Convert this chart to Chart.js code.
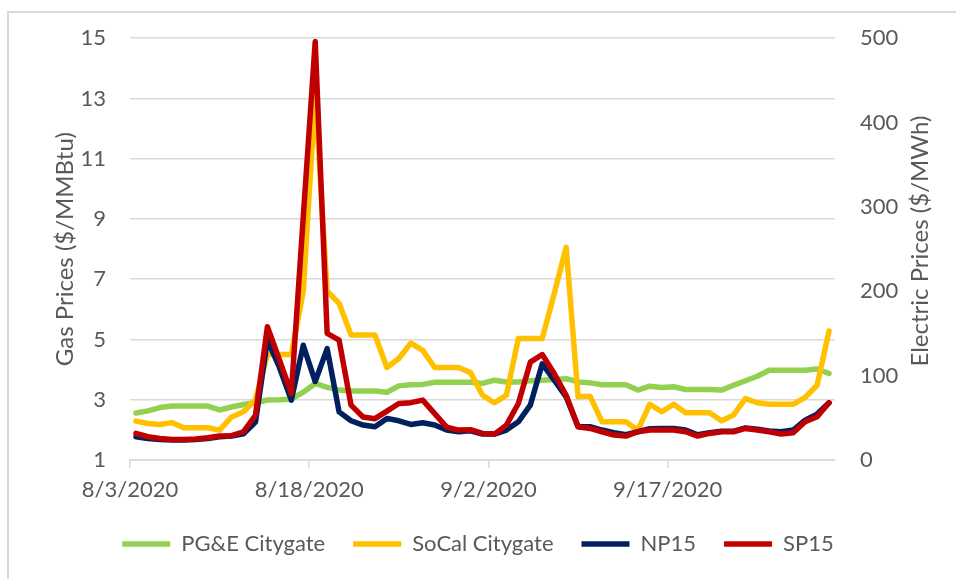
<!DOCTYPE html>
<html>
<head>
<meta charset="utf-8">
<script src="https://cdn.jsdelivr.net/npm/chart.js@4.4.1/dist/chart.umd.min.js"></script>
<style>
  body { margin: 0; background: #fff; }
  #wrap { position: relative; width: 956px; height: 579px; overflow: hidden; }
  #frame { position: absolute; left: 7px; top: 11px; width: 960px; height: 600px; border-left: 2px solid #d9d9d9; border-top: 2px solid #d9d9d9; }
  canvas { position: absolute; left: 0; top: 0; }
</style>
</head>
<body>
<div id="wrap">
  <div id="frame"></div>
  <canvas id="chart" width="956" height="579"></canvas>
</div>
<script>
// daily values, 8/3/2020 .. 9/30/2020
let tickLabels = ['8/3/2020', '8/18/2020', '9/2/2020', '9/17/2020'];

// gas, $/MMBtu
let pge = [2.56, 2.63, 2.74, 2.79, 2.79, 2.79, 2.79, 2.66, 2.76, 2.84,
  2.90, 2.99, 3.00, 3.02, 3.25, 3.54, 3.41, 3.32, 3.29, 3.29,
  3.29, 3.25, 3.46, 3.50, 3.51, 3.58, 3.58, 3.58, 3.58, 3.54,
  3.65, 3.59, 3.59, 3.63, 3.65, 3.67, 3.70, 3.59, 3.56, 3.50,
  3.50, 3.50, 3.32, 3.45, 3.41, 3.43, 3.34, 3.34, 3.34, 3.32,
  3.48, 3.63, 3.78, 3.98, 3.98, 3.98, 3.98, 4.02, 3.87];
let socal = [2.29, 2.21, 2.18, 2.24, 2.07, 2.07, 2.07, 1.99, 2.43, 2.60,
  3.00, 4.50, 4.50, 4.50, 6.60, 13.10, 6.60, 6.20, 5.15, 5.15,
  5.15, 4.07, 4.37, 4.88, 4.64, 4.07, 4.07, 4.07, 3.90, 3.15,
  2.90, 3.15, 5.03, 5.03, 5.03, 6.52, 8.06, 3.10, 3.12, 2.27,
  2.27, 2.27, 1.99, 2.85, 2.60, 2.85, 2.57, 2.57, 2.57, 2.30,
  2.49, 3.04, 2.90, 2.85, 2.85, 2.85, 3.08, 3.48, 5.28];

// power, $/MWh
let np15 = [27.6, 25.6, 24.4, 23.6, 23.6, 24.4, 25.6, 27.6, 28.4, 31,
  45, 142, 110, 71, 136, 93, 132, 57, 46.5, 41.4,
  39.4, 49.3, 46.5, 42.2, 44.1, 41.4, 35.5, 33.5, 34.6, 30.7,
  30.7, 35.5, 45.3, 65, 114, 94.6, 74.8, 39.4, 39.4, 35.5,
  32.3, 30, 33.5, 37, 37.4, 37.4, 35.5, 30, 32.3, 34,
  34, 38, 36.5, 34.5, 33.5, 35.5, 47.3, 54.4, 67.8];
let sp15 = [31.5, 27.6, 25.6, 24.4, 24.4, 25, 26.4, 28.4, 28.8, 33.5,
  53, 158, 119, 79, 288, 496, 150, 142, 65, 51,
  49, 58, 67, 68, 71, 55, 39, 35.5, 36, 31.5,
  30.7, 41.4, 67, 116, 125, 102.5, 76.8, 39.4, 37.4, 33.5,
  29.6, 28.4, 33.5, 35.5, 35.5, 35.5, 33.5, 28.4, 31.5, 33.5,
  33.5, 37.4, 35.5, 33.5, 30.7, 32.3, 45.3, 51.2, 67.8];

let grey = '#595959';
let gridGrey = '#d9d9d9';
let font = { family: 'Lato, "Open Sans", sans-serif', size: 22 };
let titleFont = { family: 'Lato, "Open Sans", sans-serif', size: 24 };

// each day sits in the middle of its slot
function series(values) {
  return values.map((v, i) => ({ x: i + 0.5, y: v }));
}

function line(label, values, color, axis, order) {
  return {
    label: label,
    data: series(values),
    borderColor: color,
    backgroundColor: color,
    borderWidth: 5.5,
    borderCapStyle: 'round',
    borderJoinStyle: 'round',
    pointRadius: 0,
    tension: 0,
    yAxisID: axis,
    order: order
  };
}

// chart.js only rotates a right-hand title the other way, so draw it here
let rightTitle = {
  id: 'rightTitle',
  afterDraw(chart) {
    let s = chart.scales.power;
    let ctx = chart.ctx;
    ctx.save();
    ctx.translate(s.right - 36, (s.top + s.bottom) / 2 - 8);
    ctx.rotate(-Math.PI / 2);
    ctx.font = '24px Lato, "Open Sans", sans-serif';
    ctx.fillStyle = grey;
    ctx.textAlign = 'center';
    ctx.textBaseline = 'middle';
    ctx.fillText('Electric Prices ($/MWh)', 0, 0);
    ctx.restore();
  }
};

let chart = new Chart(document.getElementById('chart'), {
  type: 'line',
  data: {
    datasets: [
      line('PG&E Citygate', pge, '#92d050', 'gas', 4),
      line('SoCal Citygate', socal, '#ffc000', 'gas', 3),
      line('NP15', np15, '#002060', 'power', 2),
      line('SP15', sp15, '#c00000', 'power', 1)
    ]
  },
  options: {
    responsive: false,
    animation: false,
    layout: { padding: { top: 37, bottom: 14, left: 0, right: 0 } },
    plugins: {
      legend: {
        position: 'bottom',
        labels: {
          usePointStyle: true,
          pointStyle: 'line',
          pointStyleWidth: 48,
          padding: 28,
          color: grey,
          font: font,
          sort: (a, b) => a.datasetIndex - b.datasetIndex
        }
      },
      tooltip: { enabled: false }
    },
    scales: {
      x: {
        type: 'linear',
        min: 0,
        max: 59,
        afterFit: s => { s.height = 45; },
        grid: { drawOnChartArea: false, tickLength: 8, color: gridGrey, lineWidth: 1.5 },
        border: { color: gridGrey, width: 1.5 },
        ticks: {
          stepSize: 15,
          autoSkip: false,
          maxRotation: 0,
          padding: 9,
          color: grey,
          font: font,
          callback: v => tickLabels[v / 15]
        }
      },
      gas: {
        position: 'left',
        min: 1,
        max: 15,
        afterFit: s => { s.width = 130; },
        ticks: { stepSize: 2, padding: 24, color: grey, font: font },
        grid: { color: gridGrey, lineWidth: 1.5, drawTicks: false },
        border: { display: false },
        title: {
          display: true,
          text: 'Gas Prices ($/MMBtu)',
          color: grey,
          font: titleFont,
          padding: { top: 51, bottom: 0 }
        }
      },
      power: {
        position: 'right',
        min: 0,
        max: 500,
        afterFit: s => { s.width = 121; },
        ticks: { stepSize: 100, padding: 25, color: grey, font: font },
        grid: { drawOnChartArea: false, drawTicks: false },
        border: { display: false }
      }
    }
  },
  plugins: [rightTitle]
});
</script>
</body>
</html>
